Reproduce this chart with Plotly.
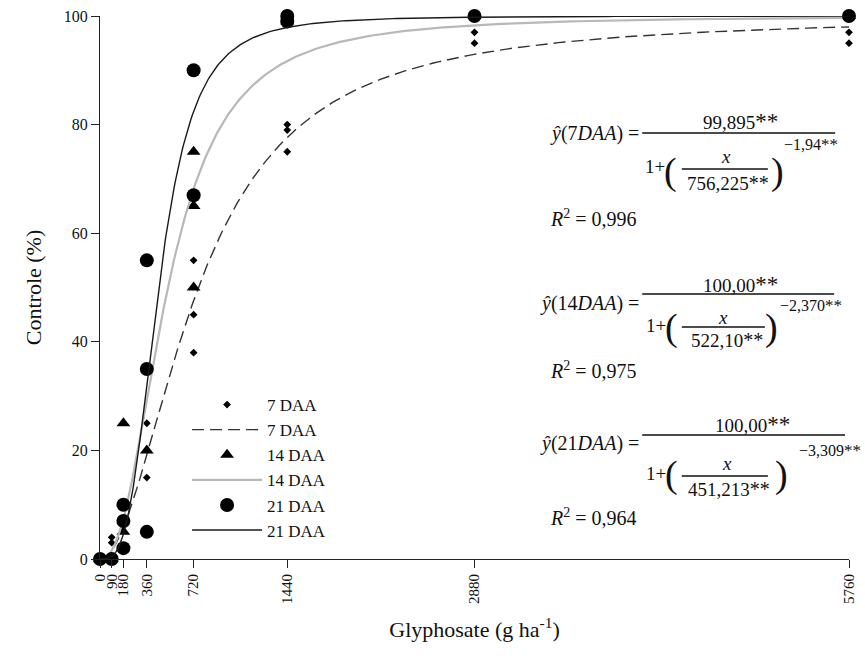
import numpy as np
import plotly.graph_objects as go

# Doses (g ha-1) used as x ticks
dose_ticks = [0, 90, 180, 360, 720, 1440, 2880, 5760]

# Observed control (%) per evaluation date
x_7 = [0, 90, 90, 360, 360, 720, 720, 720, 1440, 1440, 1440, 2880, 2880, 5760, 5760]
y_7 = [0, 4, 3, 25, 15, 55, 45, 38, 80, 79, 75, 97, 95, 97, 95]

x_14 = [0, 90, 180, 180, 360, 720, 720, 720, 1440, 2880, 5760]
y_14 = [0, 0, 25, 5, 20, 75, 65, 50, 99, 100, 100]

x_21 = [0, 90, 180, 180, 180, 360, 360, 360, 720, 720, 1440, 1440, 2880, 5760]
y_21 = [0, 0, 10, 7, 2, 55, 35, 5, 90, 67, 100, 99, 100, 100]

# Log-logistic fits: y = a / (1 + (x / x0) ** b)
fit_a = [99.895, 100.00, 100.00]
fit_x0 = [756.225, 522.10, 451.213]
fit_b = [-1.94, -2.370, -3.309]
fit_r2 = ["0,996", "0,975", "0,964"]
fit_labels = ["7", "14", "21"]
fit_a_txt = ["99,895", "100,00", "100,00"]
fit_x0_txt = ["756,225", "522,10", "451,213"]
fit_b_txt = ["\u22121,94", "\u22122,370", "\u22123,309"]

xs = np.concatenate([[0.0], np.geomspace(1, 5760, 600)])


def loglogistic(x, a, x0, b):
    with np.errstate(divide="ignore", over="ignore"):
        return a / (1 + np.power(x / x0, b))


SERIF = "Liberation Serif"

fig = go.Figure()

fig.add_trace(go.Scatter(x=x_7, y=y_7, mode="markers", name="7 DAA",
                         marker=dict(symbol="diamond", size=6, color="black"),
                         cliponaxis=False))
fig.add_trace(go.Scatter(x=xs, y=loglogistic(xs, fit_a[0], fit_x0[0], fit_b[0]),
                         mode="lines", name="7 DAA",
                         line=dict(color="#333333", width=1.4, dash="12px,6px")))
fig.add_trace(go.Scatter(x=x_14, y=y_14, mode="markers", name="14 DAA",
                         marker=dict(symbol="triangle-up", size=12, color="black"),
                         cliponaxis=False))
fig.add_trace(go.Scatter(x=xs, y=loglogistic(xs, fit_a[1], fit_x0[1], fit_b[1]),
                         mode="lines", name="14 DAA",
                         line=dict(color="#b8b8b8", width=2.2)))
fig.add_trace(go.Scatter(x=x_21, y=y_21, mode="markers", name="21 DAA",
                         marker=dict(symbol="circle", size=14, color="black"),
                         cliponaxis=False))
fig.add_trace(go.Scatter(x=xs, y=loglogistic(xs, fit_a[2], fit_x0[2], fit_b[2]),
                         mode="lines", name="21 DAA",
                         line=dict(color="#1a1a1a", width=1.4)))

# plot-area frame in pixels
L, R, T, B = 100, 857, 16, 559


def px(v):
    return (v - L) / (R - L)


def py(v):
    return (B - v) / (B - T)


annotations = []
shapes = []


def text(x, y, s, size=19, xanchor="center"):
    annotations.append(dict(x=px(x), y=py(y), xref="paper", yref="paper",
                            text=s, showarrow=False, xanchor=xanchor,
                            yanchor="middle",
                            font=dict(family=SERIF, size=size, color="#111111")))


def hbar(x0, x1, y):
    shapes.append(dict(type="line", xref="paper", yref="paper",
                       x0=px(x0), x1=px(x1), y0=py(y), y1=py(y),
                       line=dict(color="#111111", width=1.3)))


STAR = '<span style="font-size:23px">**</span>'
DSTAR = '<span style="font-size:20px">**</span>'
SSTAR = '<span style="font-size:17px">**</span>'

# equation block layout (pixel anchors)
blocks = [
    dict(lhs_y=133, bar=(648, 843, 133), num=(747, 122), one=(661, 167), lp=(677, 171),
         xv=(733, 156), ibar=(688, 775, 169), den=(735, 183), rp=(785, 171),
         exp=(789, 145), r2=218),
    dict(lhs_y=303, bar=(648, 842, 294), num=(747, 284), one=(662, 325), lp=(678, 327),
         xv=(730, 317), ibar=(688, 772, 327), den=(734, 340), rp=(779, 327),
         exp=(785, 305), r2=370),
    dict(lhs_y=443, bar=(648, 853, 435), num=(759, 424), one=(662, 473), lp=(678, 474),
         xv=(734, 463), ibar=(688, 775, 476), den=(736, 489), rp=(789, 474),
         exp=(804, 450), r2=517),
]

for i, blk in enumerate(blocks):
    text(647, blk["lhs_y"], "<i>\u0177</i>(" + fit_labels[i] + "<i>DAA</i>) =", size=20,
         xanchor="right")
    hbar(*blk["bar"])
    text(blk["num"][0], blk["num"][1], fit_a_txt[i] + STAR)
    text(blk["one"][0], blk["one"][1], "1+")
    text(blk["lp"][0], blk["lp"][1], "(", size=38)
    text(blk["xv"][0], blk["xv"][1], "<i>x</i>")
    hbar(*blk["ibar"])
    text(blk["den"][0], blk["den"][1], fit_x0_txt[i] + DSTAR)
    text(blk["rp"][0], blk["rp"][1], ")", size=38)
    text(blk["exp"][0], blk["exp"][1], fit_b_txt[i] + SSTAR, size=16, xanchor="left")
    text(553, blk["r2"], "<i>R</i><sup>2</sup> = " + fit_r2[i], size=20, xanchor="left")

fig.update_layout(
    width=865, height=661,
    margin=dict(l=L, r=865 - R, t=T, b=661 - B),
    paper_bgcolor="white", plot_bgcolor="white",
    font=dict(family=SERIF, color="#111111"),
    hovermode=False,
    showlegend=True,
    legend=dict(x=px(188), y=py(387), xanchor="left", yanchor="top",
                bgcolor="rgba(0,0,0,0)", font=dict(family=SERIF, size=17),
                itemwidth=70, tracegroupgap=0),
    annotations=annotations,
    shapes=shapes,
    xaxis=dict(range=[0, 5760], tickmode="array", tickvals=dose_ticks,
               ticktext=[str(v) for v in dose_ticks], tickangle=-90,
               ticks="outside", ticklen=8, tickwidth=1.2, tickcolor="#222",
               showline=True, linecolor="#222", linewidth=1.2,
               showgrid=False, zeroline=False,
               tickfont=dict(family=SERIF, size=15),
               title=dict(text="Glyphosate (g ha<sup>-1</sup>)",
                          font=dict(family=SERIF, size=22), standoff=18)),
    yaxis=dict(range=[0, 100], tickvals=[0, 20, 40, 60, 80, 100],
               ticks="outside", ticklen=8, tickwidth=1.2, tickcolor="#222",
               showline=True, linecolor="#222", linewidth=1.2,
               showgrid=False, zeroline=False,
               tickfont=dict(family=SERIF, size=16),
               title=dict(text="Controle (%)", font=dict(family=SERIF, size=22),
                          standoff=16)),
)

fig.write_html("out.html")
